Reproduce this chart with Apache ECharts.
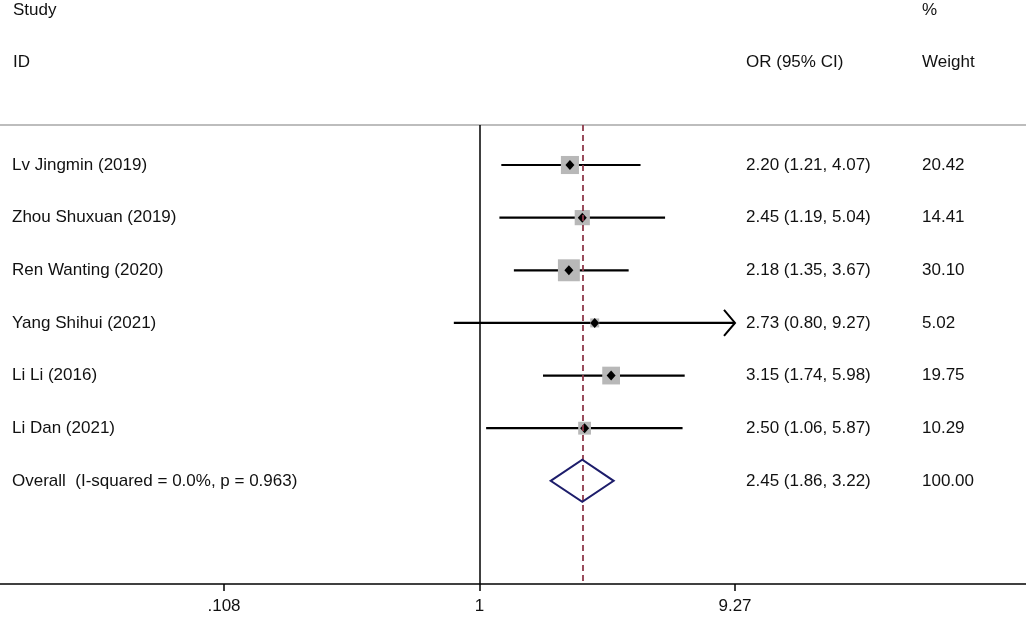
<!DOCTYPE html>
<html>
<head>
    <meta charset="utf-8">
    <script src="https://cdn.jsdelivr.net/npm/echarts@6.0.0/dist/echarts.min.js"></script>
    <style>
        html, body { margin: 0; padding: 0; background: #fff; }
        #chart { width: 1026px; height: 619px; }
    </style>
</head>
<body>
<div id="chart"></div>
<script>
    // study data (odds ratios, 95% CI, weights)
    const studies = ['Lv Jingmin (2019)', 'Zhou Shuxuan (2019)', 'Ren Wanting (2020)',
        'Yang Shihui (2021)', 'Li Li (2016)', 'Li Dan (2021)']
    const orValues = [2.20, 2.45, 2.18, 2.73, 3.15, 2.50]
    const ciLower = [1.21, 1.19, 1.35, 0.80, 1.74, 1.06]
    const ciUpper = [4.07, 5.04, 3.67, 9.27, 5.98, 5.87]
    const weights = [20.42, 14.41, 30.10, 5.02, 19.75, 10.29]

    const overallLabel = 'Overall  (I-squared = 0.0%, p = 0.963)'
    const overallOr = 2.45
    const overallLower = 1.86
    const overallUpper = 3.22
    const overallWeight = 100.00

    const tickValues = [0.108, 1, 9.27]
    const tickLabels = ['.108', '1', '9.27']

    const FONT = "'Liberation Sans', Arial, sans-serif"
    const FS = 17
    const log = Math.log10
    const clipHi = log(tickValues[tickValues.length - 1])

    const overallRow = studies.length + 1
    const rows = studies.map((s, i) => i + 1)

    const chart = echarts.init(document.getElementById('chart'))

    function fmt(v) { return v.toFixed(2) }

    const textRows = studies.map((s, i) => ({
        name: s,
        ci: fmt(orValues[i]) + ' (' + fmt(ciLower[i]) + ', ' + fmt(ciUpper[i]) + ')',
        w: fmt(weights[i]),
        row: rows[i]
    }))
    textRows.push({
        name: overallLabel,
        ci: fmt(overallOr) + ' (' + fmt(overallLower) + ', ' + fmt(overallUpper) + ')',
        w: fmt(overallWeight),
        row: overallRow
    })

    function txt(text, x, y) {
        return {
            type: 'text',
            style: { text: text, x: x, y: y, fill: '#111', fontSize: FS, fontFamily: FONT,
                align: 'left', verticalAlign: 'middle' }
        }
    }

    const option = {
        animation: false,
        grid: { left: 0, right: 0, top: 125, bottom: 35 },
        xAxis: [{
            type: 'value',
            min: -1.8142,
            max: 2.0682,
            position: 'bottom',
            splitLine: { show: false },
            axisLine: { show: true, lineStyle: { color: '#000', width: 1.5 } },
            axisTick: { show: true, length: 7, lineStyle: { color: '#000', width: 1.5 },
                customValues: tickValues.map(log) },
            axisLabel: {
                show: true, margin: 14, color: '#111', fontSize: FS, fontFamily: FONT,
                customValues: tickValues.map(log),
                formatter: function (v) {
                    let best = 0
                    tickValues.forEach((t, i) => {
                        if (Math.abs(log(t) - v) < Math.abs(log(tickValues[best]) - v)) best = i
                    })
                    return tickLabels[best]
                }
            }
        }, {
            type: 'value',
            min: -1.8142,
            max: 2.0682,
            position: 'top',
            splitLine: { show: false },
            axisLine: { show: true, lineStyle: { color: '#bdbdbd', width: 2 } },
            axisTick: { show: false },
            axisLabel: { show: false }
        }],
        yAxis: {
            type: 'value',
            inverse: true,
            min: 0.24,
            max: 8.96,
            show: false
        },
        graphic: [
            txt('Study', 13, 10),
            txt('%', 922, 10),
            txt('ID', 13, 62),
            txt('OR (95% CI)', 746, 62),
            txt('Weight', 922, 62)
        ],
        series: [
            {
                // reference lines: null effect and overall estimate
                type: 'line',
                data: [],
                markLine: {
                    silent: true,
                    symbol: 'none',
                    label: { show: false },
                    data: [
                        { xAxis: 0, lineStyle: { color: '#000', width: 1.5, type: 'solid' } },
                        { xAxis: log(overallOr), lineStyle: { color: '#8f3a4b', width: 1.8, type: [6, 4] } }
                    ]
                }
            },
            {
                // confidence interval lines
                type: 'custom',
                data: rows.map((r, i) => [log(ciLower[i]), log(ciUpper[i]), r]),
                renderItem: function (params, api) {
                    const lo = api.value(0)
                    const hi = api.value(1)
                    const r = api.value(2)
                    const p1 = api.coord([lo, r])
                    const p2 = api.coord([Math.min(hi, clipHi), r])
                    const children = [{
                        type: 'line',
                        shape: { x1: p1[0], y1: p1[1], x2: p2[0], y2: p2[1] },
                        style: { stroke: '#000', lineWidth: 2.2 }
                    }]
                    if (hi >= clipHi - 1e-9) {
                        children.push({
                            type: 'polyline',
                            shape: { points: [[p2[0] - 11, p2[1] - 13], [p2[0], p2[1]], [p2[0] - 11, p2[1] + 13]] },
                            style: { stroke: '#000', lineWidth: 2, fill: null }
                        })
                    }
                    return { type: 'group', children: children }
                }
            },
            {
                // weight boxes
                type: 'scatter',
                symbol: 'rect',
                data: rows.map((r, i) => ({
                    value: [log(orValues[i]), r],
                    symbolSize: 4.0 * Math.sqrt(weights[i])
                })),
                itemStyle: { color: '#b8b8b8', opacity: 1 },
                z: 3
            },
            {
                // point estimates
                type: 'scatter',
                symbol: 'diamond',
                symbolSize: [9, 10],
                data: rows.map((r, i) => [log(orValues[i]), r]),
                itemStyle: { color: '#000', opacity: 1 },
                z: 4
            },
            {
                // pooled estimate diamond
                type: 'custom',
                data: [[log(overallLower), log(overallOr), log(overallUpper), overallRow]],
                renderItem: function (params, api) {
                    const r = api.value(3)
                    const h = 0.4
                    const pts = [
                        api.coord([api.value(0), r]),
                        api.coord([api.value(1), r - h]),
                        api.coord([api.value(2), r]),
                        api.coord([api.value(1), r + h])
                    ]
                    return {
                        type: 'polygon',
                        shape: { points: pts },
                        style: { stroke: '#1d1d6b', lineWidth: 2, fill: 'rgba(0,0,0,0)' }
                    }
                },
                z: 5
            },
            {
                // study text columns
                type: 'custom',
                data: textRows.map((t, i) => [0, t.row, i]),
                renderItem: function (params, api) {
                    const t = textRows[api.value(2)]
                    const y = api.coord([0, api.value(1)])[1]
                    return {
                        type: 'group',
                        children: [
                            txt(t.name, 12, y),
                            txt(t.ci, 746, y),
                            txt(t.w, 922, y)
                        ]
                    }
                },
                z: 6
            }
        ]
    }

    chart.setOption(option)
</script>
</body>
</html>
